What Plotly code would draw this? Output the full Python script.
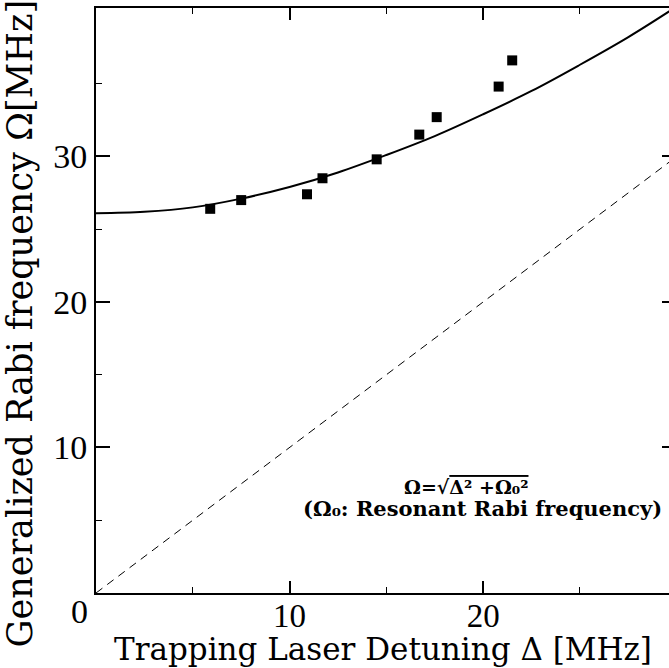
import plotly.graph_objects as go

# Measured data points (detuning [MHz], generalized Rabi frequency [MHz])
detuning = [5.9, 7.5, 10.9, 11.7, 14.5, 16.7, 17.6, 20.8, 21.5]
rabi = [26.4, 27.0, 27.4, 28.5, 29.8, 31.5, 32.7, 34.8, 36.6]

# Fitted curve
curve_x = [0, 2.5, 5, 7.5, 10, 12.5, 15, 17.5, 20, 22.5, 25, 27.5, 30]
curve_y = [26.1, 26.2, 26.5, 27.1, 27.9, 28.9, 30.1, 31.4, 32.9, 34.5, 36.3, 38.2, 40.3]

# Dashed reference line (Omega = Delta)
diag_x = [0, 30]
diag_y = [0, 30]

x_ticks = [10, 20]
y_ticks = [10, 20, 30]

FONT = "DejaVu Serif"
TICKFONT = "Liberation Serif"

fig = go.Figure()
fig.add_trace(go.Scatter(x=diag_x, y=diag_y, mode="lines",
                         line=dict(color="black", width=1, dash="8px,6px"),
                         yaxis="y2", showlegend=False))
fig.add_trace(go.Scatter(x=curve_x, y=curve_y, mode="lines",
                         line=dict(color="black", width=2, shape="spline"),
                         showlegend=False))
fig.add_trace(go.Scatter(x=detuning, y=rabi, mode="markers",
                         marker=dict(symbol="square", size=10, color="black"),
                         showlegend=False))

fig.update_layout(
    width=669, height=668,
    margin=dict(l=96, r=0, t=8, b=75),
    plot_bgcolor="white", paper_bgcolor="white",
    xaxis=dict(range=[0, 29.6], tickvals=x_ticks, ticks="inside", ticklen=12,
               tickwidth=1.5, tickcolor="black", showline=True, linecolor="black",
               linewidth=2, mirror="ticks", showgrid=False, zeroline=False,
               automargin=False,
               tickfont=dict(family=TICKFONT, size=33, color="black"),
               ticklabelstandoff=-8,
               minor=dict(tickvals=[5, 15, 25], ticks="inside", ticklen=6,
                          tickcolor="black", tickwidth=1)),
    yaxis=dict(range=[0, 40.2], tickvals=y_ticks, ticks="inside", ticklen=14,
               tickwidth=1.5, tickcolor="black", showline=True, linecolor="black",
               linewidth=2, showgrid=False, zeroline=False, automargin=False,
               tickfont=dict(family=TICKFONT, size=34, color="black"),
               ticklabelstandoff=0,
               minor=dict(tickvals=[5, 15, 25, 35], ticks="inside", ticklen=6,
                          tickcolor="black", tickwidth=1)),
    yaxis2=dict(range=[0, 40.2], overlaying="y", side="right", anchor="x",
                tickvals=y_ticks, ticks="inside", ticklen=7, tickwidth=1.5,
                tickcolor="black", showticklabels=False, showline=False,
                showgrid=False, zeroline=False, automargin=False),
    annotations=[
        dict(x=0, y=0, xref="x", yref="y", text="0", showarrow=False,
             xanchor="right", yanchor="top", xshift=-6, yshift=2,
             font=dict(family=TICKFONT, size=34, color="black")),
        dict(x=0.5, y=-0.095, xref="paper", yref="paper",
             text="Trapping Laser Detuning Δ [MHz]", showarrow=False,
             xanchor="center", yanchor="middle",
             font=dict(family=FONT, size=31, color="black")),
        dict(x=-0.133, y=-0.097, xref="paper", yref="paper",
             text="Generalized Rabi frequency Ω[MHz]", showarrow=False,
             textangle=-90, xanchor="center", yanchor="bottom",
             font=dict(family=FONT, size=35, color="black")),
        dict(x=0.646, y=0.181, xref="paper", yref="paper",
             text="<b>Ω=√<span style='text-decoration:overline'>Δ² +Ω₀²</span></b>",
             showarrow=False, xanchor="center", yanchor="middle",
             font=dict(family=FONT, size=19, color="black")),
        dict(x=0.674, y=0.144, xref="paper", yref="paper",
             text="<b>(Ω₀: Resonant Rabi frequency)</b>",
             showarrow=False, xanchor="center", yanchor="middle",
             font=dict(family=FONT, size=21, color="black")),
    ],
)

fig.write_html("out.html")
